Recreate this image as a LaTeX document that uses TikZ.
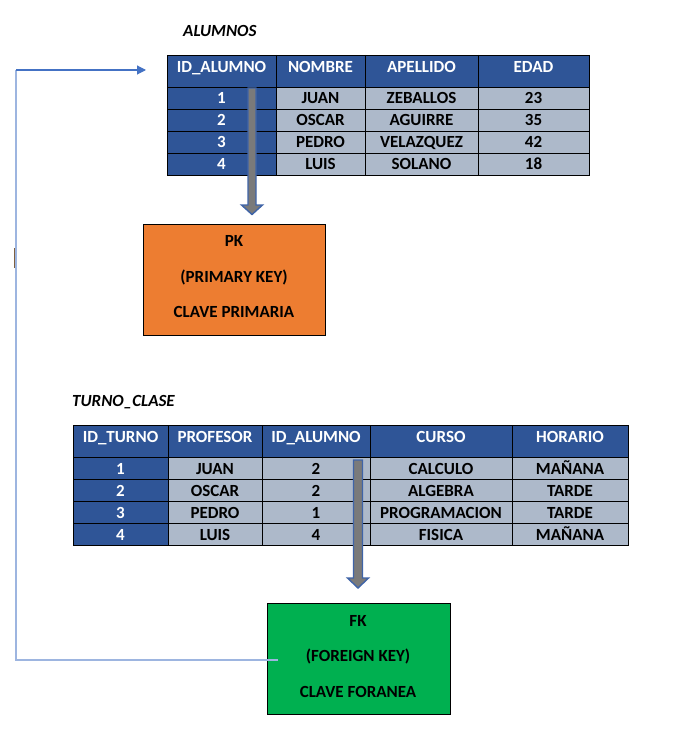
\documentclass[tikz,border=0pt]{standalone}
\usepackage{fontspec}
\setmainfont{Carlito}
\usetikzlibrary{arrows.meta}
\definecolor{hdblue}{HTML}{2F5597}
\definecolor{cellgray}{HTML}{ADB9CA}
\definecolor{pkorange}{HTML}{ED7D31}
\definecolor{fkgreen}{HTML}{00B050}
\definecolor{linkdark}{HTML}{4472C4}
\definecolor{linklight}{HTML}{9DB5E0}
\definecolor{shaftgray}{HTML}{7A7A7A}
\definecolor{arrowrim}{HTML}{3F64A8}
\definecolor{markbrown}{HTML}{7F6040}
\begin{document}
\begin{tikzpicture}[x=1pt,y=-1pt,
  txt/.style={inner sep=0pt, anchor=base, font=\fontsize{17}{19}\selectfont\bfseries},
  wtxt/.style={txt, text=white},
  ttl/.style={inner sep=0pt, anchor=base west, font=\fontsize{17}{19}\selectfont\bfseries\itshape},
  gridline/.style={draw=black, line width=0.9pt},
  keybox/.style={draw=black, line width=1.2pt, minimum width=182, minimum height=111, inner sep=0pt, anchor=north west},
  blockarrow/.style={fill=shaftgray, draw=arrowrim, line width=1.4pt, line join=miter},
  linklow/.style={draw=linklight, line width=1.6pt},
  linkhigh/.style={draw=linkdark, line width=1.1pt, -{Triangle[length=9pt,width=9pt]}}
]
\useasboundingbox[fill=white] (0,0) rectangle (682,746);

% ---------- ALUMNOS ----------
\node[ttl] (t-alumnos) at (183,36.5) {ALUMNOS};
\fill[hdblue] (167,55) rectangle (589,87);
\fill[hdblue] (167,87) rectangle (276,175);
\fill[cellgray] (276,87) rectangle (589,175);
\draw[gridline] (167,55) rectangle (589,175);
\foreach \yy in {87,109,131,153} \draw[gridline] (167,\yy) -- (589,\yy);
\foreach \xx in {276,365,478} \draw[gridline] (\xx,55) -- (\xx,175);
\foreach \xx/\tt [count=\i] in {221.5/ID\_ALUMNO,320.5/NOMBRE,421.5/APELLIDO,533.5/EDAD}
  \node[wtxt] (a-h\i) at (\xx,72.3) {\tt};
\foreach \yy/\ca/\cb/\cc/\cd [count=\i] in {104/1/JUAN/ZEBALLOS/23,126/2/OSCAR/AGUIRRE/35,148/3/PEDRO/VELAZQUEZ/42,170/4/LUIS/SOLANO/18}{
  \node[wtxt] (a-\i-1) at (221.5,\yy) {\ca};
  \node[txt] (a-\i-2) at (320.5,\yy) {\cb};
  \node[txt] (a-\i-3) at (421.5,\yy) {\cc};
  \node[txt] (a-\i-4) at (533.5,\yy) {\cd};
}

% ---------- PK box ----------
\node[keybox, fill=pkorange] (pkbox) at (143,224) {};
\node[txt] (pk-1) at (234,246.7) {PK};
\node[txt] (pk-2) at (234,282) {(PRIMARY KEY)};
\node[txt] (pk-3) at (234,317.3) {CLAVE PRIMARIA};

% ---------- TURNO_CLASE ----------
\node[ttl] (t-turno) at (72,406.5) {TURNO\_CLASE};
\fill[hdblue] (73,425) rectangle (628,457);
\fill[hdblue] (73,457) rectangle (168,545);
\fill[cellgray] (168,457) rectangle (628,545);
\draw[gridline] (73,425) rectangle (628,545);
\foreach \yy in {457,479,501,523} \draw[gridline] (73,\yy) -- (628,\yy);
\foreach \xx in {168,262,370,512} \draw[gridline] (\xx,425) -- (\xx,545);
\foreach \xx/\tt [count=\i] in {120.5/ID\_TURNO,215/PROFESOR,316/ID\_ALUMNO,441/CURSO,570/HORARIO}
  \node[wtxt] (b-h\i) at (\xx,442.3) {\tt};
\foreach \yy/\ca/\cb/\cc/\cd/\ce [count=\i] in {474/1/JUAN/2/CALCULO/MAÑANA,496/2/OSCAR/2/ALGEBRA/TARDE,518/3/PEDRO/1/PROGRAMACION/TARDE,540/4/LUIS/4/FISICA/MAÑANA}{
  \node[wtxt] (b-\i-1) at (120.5,\yy) {\ca};
  \node[txt] (b-\i-2) at (215,\yy) {\cb};
  \node[txt] (b-\i-3) at (316,\yy) {\cc};
  \node[txt] (b-\i-4) at (441,\yy) {\cd};
  \node[txt] (b-\i-5) at (570,\yy) {\ce};
}

% ---------- FK box ----------
\node[keybox, fill=fkgreen, minimum width=183] (fkbox) at (267,603) {};
\node[txt] (fk-1) at (358,626) {FK};
\node[txt] (fk-2) at (358,661) {(FOREIGN KEY)};
\node[txt] (fk-3) at (358,697) {CLAVE FORANEA};

% ---------- block arrows ----------
\coordinate (pkstart) at (252,88);
\path[blockarrow] (pkstart) ++(-4,0) -- ++(8,0) -- ++(0,117) -- ++(6.5,0) -- ++(-10.5,9.5) -- ++(-10.5,-9.5) -- ++(6.5,0) -- cycle;
\coordinate (fkstart) at (358,460);
\path[blockarrow] (fkstart) ++(-4.5,0) -- ++(9,0) -- ++(0,118) -- ++(6,0) -- ++(-10.5,10) -- ++(-10.5,-10) -- ++(6,0) -- cycle;

% ---------- FK -> PK connector ----------
\coordinate (fkend) at (278,660);
\coordinate (lowcorner) at (16,660);
\coordinate (highcorner) at (16,70);
\coordinate (pktip) at (146,70);
\draw[linklow] (fkend) -- (lowcorner) -- (highcorner);
\draw[linkhigh] (highcorner) -- (pktip);
\draw[markbrown, line width=1pt] (14.9,248) -- (14.9,268);
\end{tikzpicture}
\end{document}
